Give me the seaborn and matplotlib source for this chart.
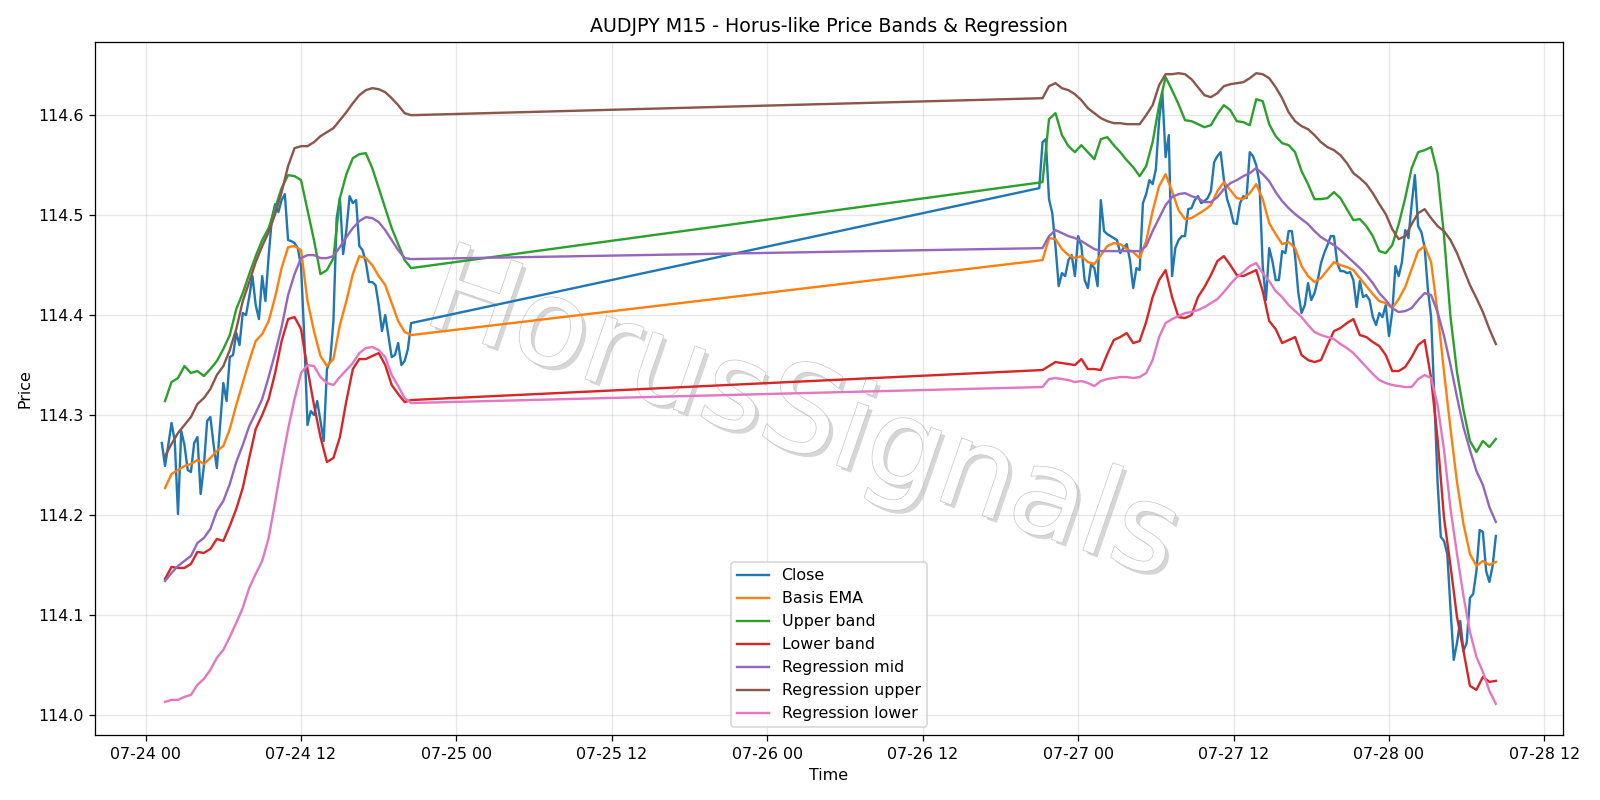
import pandas as pd
import matplotlib
matplotlib.use("Agg")
import matplotlib.pyplot as plt
import matplotlib.dates as mdates
import matplotlib.patheffects as pe
import seaborn as sns

# --- bar times (M15 closes, bands read every 30 min) ---
CLOSE_START_1 = "2020-07-24 01:15"
CLOSE_START_2 = "2020-07-26 21:00"
BAND_START_1 = "2020-07-24 01:30"
BAND_START_2 = "2020-07-26 21:15"

# --- close prices, 15-min bars ---
close_1 = [114.272, 114.249, 114.270, 114.292, 114.274, 114.201, 114.284, 114.270, 114.245, 114.243,
           114.272, 114.278, 114.221, 114.249, 114.294, 114.298, 114.270, 114.247, 114.290, 114.332,
           114.314, 114.358, 114.360, 114.382, 114.370, 114.402, 114.400, 114.418, 114.439, 114.410,
           114.396, 114.439, 114.414, 114.459, 114.497, 114.511, 114.503, 114.515, 114.521, 114.475,
           114.474, 114.472, 114.467, 114.449, 114.378, 114.290, 114.304, 114.300, 114.314, 114.294,
           114.274, 114.346, 114.354, 114.394, 114.497, 114.517, 114.461, 114.485, 114.519, 114.512,
           114.515, 114.469, 114.465, 114.453, 114.433, 114.433, 114.430, 114.410, 114.384, 114.400,
           114.379, 114.358, 114.360, 114.372, 114.350, 114.354, 114.366, 114.392]
close_2 = [114.527, 114.573, 114.576, 114.516, 114.502, 114.469, 114.429, 114.442, 114.439, 114.455,
           114.460, 114.439, 114.479, 114.469, 114.435, 114.427, 114.451, 114.447, 114.429, 114.515,
           114.484, 114.481, 114.479, 114.477, 114.475, 114.462, 114.467, 114.471, 114.455, 114.427,
           114.447, 114.445, 114.512, 114.521, 114.535, 114.531, 114.546, 114.595, 114.623, 114.558,
           114.580, 114.439, 114.467, 114.475, 114.479, 114.479, 114.506, 114.507, 114.515, 114.519,
           114.512, 114.514, 114.517, 114.524, 114.553, 114.559, 114.563, 114.536, 114.516, 114.506,
           114.492, 114.491, 114.512, 114.519, 114.517, 114.563, 114.559, 114.550, 114.532, 114.449,
           114.415, 114.467, 114.454, 114.435, 114.435, 114.464, 114.462, 114.484, 114.484, 114.459,
           114.422, 114.402, 114.410, 114.432, 114.415, 114.422, 114.435, 114.452, 114.462, 114.470,
           114.479, 114.479, 114.452, 114.444, 114.444, 114.442, 114.443, 114.435, 114.408, 114.434,
           114.418, 114.420, 114.415, 114.398, 114.390, 114.402, 114.398, 114.410, 114.379, 114.403,
           114.449, 114.439, 114.453, 114.485, 114.477, 114.511, 114.540, 114.489, 114.483, 114.468,
           114.426, 114.398, 114.318, 114.233, 114.178, 114.174, 114.161, 114.106, 114.055, 114.072,
           114.094, 114.064, 114.072, 114.117, 114.121, 114.144, 114.185, 114.183, 114.144, 114.133,
           114.149, 114.179]

# --- bands, 30-min samples ---
ema_1 = [114.227, 114.241, 114.245, 114.249, 114.251, 114.255, 114.251, 114.257, 114.264, 114.269,
         114.286, 114.310, 114.332, 114.354, 114.374, 114.381, 114.394, 114.418, 114.447, 114.468,
         114.469, 114.465, 114.414, 114.384, 114.359, 114.349, 114.356, 114.390, 114.414, 114.441,
         114.459, 114.457, 114.450, 114.439, 114.430, 114.412, 114.394, 114.383, 114.380]
ema_2 = [114.455, 114.477, 114.476, 114.466, 114.460, 114.457, 114.459, 114.453, 114.451, 114.460,
         114.469, 114.472, 114.471, 114.466, 114.463, 114.457, 114.474, 114.504, 114.529, 114.541,
         114.524, 114.505, 114.496, 114.497, 114.501, 114.505, 114.510, 114.524, 114.533, 114.525,
         114.517, 114.516, 114.522, 114.531, 114.516, 114.492, 114.481, 114.471, 114.473, 114.467,
         114.449, 114.439, 114.433, 114.437, 114.445, 114.453, 114.450, 114.448, 114.445, 114.437,
         114.429, 114.421, 114.414, 114.412, 114.407, 114.416, 114.428, 114.446, 114.464, 114.469,
         114.453, 114.403, 114.343, 114.286, 114.233, 114.191, 114.161, 114.149, 114.154, 114.150,
         114.153]

upper_1 = [114.314, 114.333, 114.337, 114.349, 114.342, 114.344, 114.339, 114.346, 114.354, 114.366,
           114.380, 114.406, 114.422, 114.441, 114.459, 114.475, 114.487, 114.507, 114.527, 114.540,
           114.539, 114.535, 114.505, 114.475, 114.441, 114.445, 114.457, 114.517, 114.541, 114.557,
           114.561, 114.562, 114.547, 114.527, 114.507, 114.487, 114.471, 114.455, 114.447]
upper_2 = [114.533, 114.596, 114.602, 114.580, 114.569, 114.563, 114.570, 114.563, 114.556, 114.576,
           114.578, 114.570, 114.563, 114.555, 114.548, 114.539, 114.549, 114.573, 114.610, 114.638,
           114.625, 114.611, 114.595, 114.594, 114.591, 114.588, 114.590, 114.601, 114.610, 114.605,
           114.594, 114.593, 114.590, 114.616, 114.614, 114.591, 114.579, 114.572, 114.570, 114.563,
           114.544, 114.531, 114.516, 114.516, 114.517, 114.523, 114.517, 114.506, 114.495, 114.496,
           114.489, 114.479, 114.464, 114.462, 114.470, 114.491, 114.517, 114.547, 114.563, 114.565,
           114.568, 114.542, 114.479, 114.398, 114.343, 114.305, 114.274, 114.263, 114.274, 114.268,
           114.276]

lower_1 = [114.136, 114.148, 114.147, 114.147, 114.151, 114.163, 114.162, 114.166, 114.176, 114.174,
           114.189, 114.206, 114.227, 114.257, 114.286, 114.300, 114.316, 114.342, 114.374, 114.396,
           114.398, 114.386, 114.346, 114.310, 114.278, 114.253, 114.257, 114.278, 114.314, 114.346,
           114.356, 114.356, 114.359, 114.362, 114.350, 114.330, 114.321, 114.313, 114.315]
lower_2 = [114.345, 114.349, 114.353, 114.352, 114.351, 114.350, 114.356, 114.346, 114.346, 114.345,
           114.361, 114.375, 114.378, 114.382, 114.372, 114.374, 114.393, 114.418, 114.435, 114.445,
           114.418, 114.398, 114.397, 114.400, 114.418, 114.428, 114.440, 114.454, 114.459, 114.450,
           114.440, 114.439, 114.442, 114.445, 114.424, 114.394, 114.386, 114.372, 114.375, 114.378,
           114.360, 114.355, 114.353, 114.355, 114.370, 114.384, 114.387, 114.392, 114.396, 114.380,
           114.378, 114.373, 114.369, 114.360, 114.344, 114.344, 114.348, 114.358, 114.370, 114.375,
           114.337, 114.276, 114.197, 114.149, 114.098, 114.064, 114.029, 114.025, 114.038, 114.033,
           114.034]

reg_mid_1 = [114.134, 114.142, 114.149, 114.154, 114.159, 114.172, 114.177, 114.186, 114.204, 114.214,
             114.231, 114.253, 114.270, 114.289, 114.302, 114.316, 114.338, 114.362, 114.388, 114.420,
             114.441, 114.457, 114.460, 114.460, 114.457, 114.457, 114.459, 114.468, 114.478, 114.487,
             114.494, 114.498, 114.497, 114.493, 114.485, 114.475, 114.465, 114.457, 114.456]
reg_mid_2 = [114.467, 114.479, 114.485, 114.482, 114.479, 114.477, 114.474, 114.470, 114.466, 114.464,
             114.464, 114.464, 114.464, 114.464, 114.464, 114.464, 114.469, 114.484, 114.497, 114.510,
             114.518, 114.521, 114.522, 114.519, 114.517, 114.513, 114.513, 114.518, 114.526, 114.532,
             114.535, 114.539, 114.542, 114.547, 114.541, 114.534, 114.523, 114.514, 114.507, 114.501,
             114.496, 114.491, 114.484, 114.478, 114.474, 114.470, 114.465, 114.459, 114.453, 114.447,
             114.440, 114.432, 114.422, 114.415, 114.407, 114.403, 114.404, 114.407, 114.415, 114.422,
             114.420, 114.403, 114.379, 114.350, 114.318, 114.288, 114.265, 114.244, 114.230, 114.208,
             114.193]

reg_up_1 = [114.259, 114.271, 114.282, 114.290, 114.298, 114.311, 114.317, 114.326, 114.340, 114.349,
            114.365, 114.386, 114.414, 114.433, 114.453, 114.469, 114.483, 114.501, 114.523, 114.549,
            114.567, 114.569, 114.569, 114.573, 114.579, 114.583, 114.587, 114.595, 114.603, 114.612,
            114.620, 114.625, 114.627, 114.626, 114.623, 114.617, 114.610, 114.602, 114.600]
reg_up_2 = [114.617, 114.629, 114.632, 114.627, 114.625, 114.621, 114.615, 114.607, 114.602, 114.597,
            114.594, 114.592, 114.592, 114.591, 114.591, 114.591, 114.600, 114.610, 114.630, 114.641,
            114.641, 114.642, 114.641, 114.636, 114.628, 114.620, 114.618, 114.622, 114.629, 114.631,
            114.632, 114.633, 114.637, 114.642, 114.641, 114.637, 114.628, 114.617, 114.603, 114.594,
            114.589, 114.586, 114.580, 114.573, 114.568, 114.565, 114.560, 114.552, 114.542, 114.537,
            114.531, 114.522, 114.511, 114.501, 114.486, 114.476, 114.479, 114.491, 114.502, 114.506,
            114.497, 114.489, 114.484, 114.475, 114.462, 114.446, 114.430, 114.417, 114.403, 114.386,
            114.371]

reg_low_1 = [114.013, 114.015, 114.015, 114.018, 114.020, 114.030, 114.036, 114.045, 114.057, 114.065,
             114.078, 114.092, 114.107, 114.127, 114.141, 114.154, 114.177, 114.213, 114.251, 114.286,
             114.316, 114.342, 114.350, 114.349, 114.338, 114.332, 114.330, 114.338, 114.345, 114.352,
             114.362, 114.367, 114.368, 114.365, 114.358, 114.340, 114.329, 114.317, 114.312]
reg_low_2 = [114.328, 114.336, 114.337, 114.336, 114.335, 114.333, 114.334, 114.332, 114.329, 114.334,
             114.336, 114.337, 114.338, 114.338, 114.337, 114.338, 114.342, 114.355, 114.378, 114.392,
             114.396, 114.399, 114.402, 114.403, 114.405, 114.408, 114.412, 114.416, 114.423, 114.431,
             114.438, 114.443, 114.449, 114.452, 114.442, 114.434, 114.424, 114.418, 114.410, 114.404,
             114.398, 114.390, 114.383, 114.380, 114.378, 114.376, 114.371, 114.367, 114.362, 114.355,
             114.348, 114.341, 114.335, 114.332, 114.330, 114.329, 114.328, 114.328, 114.336, 114.340,
             114.337, 114.310, 114.265, 114.206, 114.161, 114.119, 114.083, 114.058, 114.043, 114.024,
             114.011]


def bar_times(start_1, n_1, start_2, n_2, step):
    t1 = pd.date_range(start_1, periods=n_1, freq=step)
    t2 = pd.date_range(start_2, periods=n_2, freq=step)
    return t1.append(t2)


close_t = bar_times(CLOSE_START_1, len(close_1), CLOSE_START_2, len(close_2), "15min")
band_t = bar_times(BAND_START_1, len(ema_1), BAND_START_2, len(ema_2), "30min")

series = [
    ("Close", close_t, close_1 + close_2),
    ("Basis EMA", band_t, ema_1 + ema_2),
    ("Upper band", band_t, upper_1 + upper_2),
    ("Lower band", band_t, lower_1 + lower_2),
    ("Regression mid", band_t, reg_mid_1 + reg_mid_2),
    ("Regression upper", band_t, reg_up_1 + reg_up_2),
    ("Regression lower", band_t, reg_low_1 + reg_low_2),
]

palette = sns.color_palette("tab10")
DPI = 1600 / 14

fig, ax = plt.subplots(figsize=(14, 7), dpi=DPI)
for i, (name, t, vals) in enumerate(series):
    sns.lineplot(x=t, y=vals, ax=ax, label=name, color=palette[i],
                 linewidth=1.5, estimator=None)

ax.xaxis.set_major_locator(mdates.HourLocator(byhour=[0, 12]))
ax.xaxis.set_major_formatter(mdates.DateFormatter("%m-%d %H"))
ax.grid(True, alpha=0.3)
ax.set_title("AUDJPY M15 - Horus-like Price Bands & Regression")
ax.set_xlabel("Time")
ax.set_ylabel("Price")
ax.legend(loc="lower center")

# watermark: white glyphs with grey outline and a soft drop shadow, under the lines
ax.text(0.482, 0.457, "HorusSignals", transform=ax.transAxes,
        family="DejaVu Sans", fontsize=76, color="white",
        rotation=-19, ha="center", va="center", zorder=1,
        path_effects=[pe.withSimplePatchShadow(offset=(2.5, -2.5), shadow_rgbFace="0.84", alpha=1.0),
                      pe.withStroke(linewidth=0.9, foreground="0.78")])

plt.tight_layout()
plt.savefig("out.png", dpi=DPI)
